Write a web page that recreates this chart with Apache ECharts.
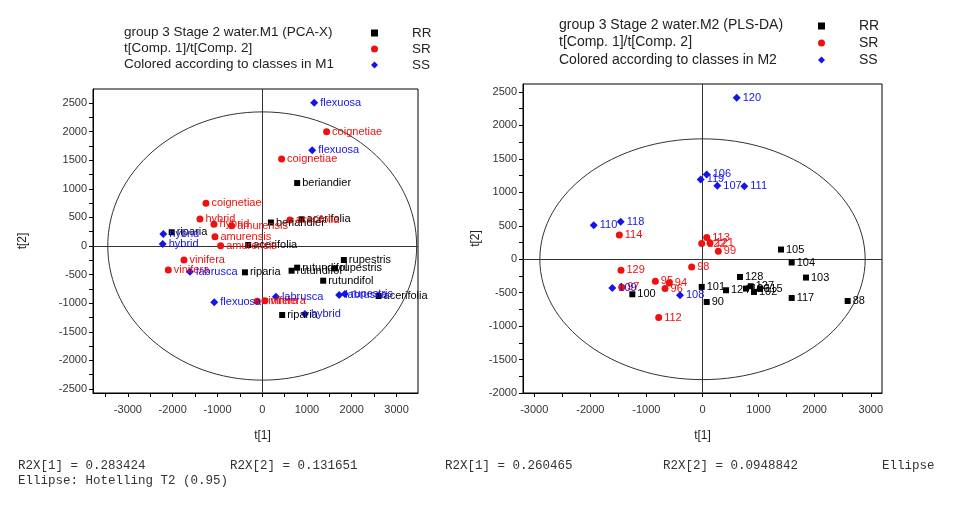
<!DOCTYPE html>
<html><head><meta charset="utf-8">
<script src="https://cdn.jsdelivr.net/npm/echarts@6/dist/echarts.min.js"></script>
<style>html,body{margin:0;padding:0;background:#fff}#c{width:965px;height:505px}</style>
</head><body><div id="c"></div>
<script>
// ---- Left plot (PCA-X) : [t1, t2, label]
const leftRR = [
  [781, 1101, 'beriandier'], [194, 411, 'beriandier'], [879, 467, 'acerifolia'],
  [-2022, 240, 'riparia'], [-313, 17, 'acerifolia'], [-386, -460, 'riparia'],
  [656, -432, 'rutundifol'], [781, -379, 'rutundifol'], [1623, -390, 'rupestris'],
  [1824, -245, 'rupestris'], [1362, -607, 'rutundifol'], [2600, -874, 'acerifolia'],
  [446, -1206, 'riparia']
];
const leftSR = [
  [1438, 1998, 'coignetiae'], [433, 1521, 'coignetiae'], [-1257, 747, 'coignetiae'],
  [-1391, 472, 'hybrid'], [-1078, 379, 'hybrid'], [-683, 355, 'amurensis'],
  [618, 455, 'acerifolia'], [-1056, 163, 'amurensis'], [-929, 5, 'amurensis'],
  [-1748, -245, 'vinifera'], [-2098, -420, 'vinifera'], [-112, -967, 'vinifera'],
  [60, -956, 'vinifera']
];
const leftSS = [
  [1161, 2505, 'flexuosa'], [1116, 1673, 'flexuosa'], [-2210, 210, 'hybrid'],
  [-2223, 35, 'hybrid'], [-1614, -449, 'labrusca'], [-1071, -984, 'flexuosa'],
  [306, -886, 'labrusca'], [953, -1189, 'hybrid'], [1719, -857, 'labrusca'],
  [1846, -839, 'rupestris']
];
// ---- Right plot (PLS-DA)
const rightRR = [
  [1399, 145, '105'], [1590, -49, '104'], [1845, -274, '103'], [1590, -579, '117'],
  [2588, -624, '88'], [668, -265, '128'], [419, -464, '124'], [775, -439, '126'],
  [859, -404, '127'], [918, -489, '102'], [1025, -439, '115'], [-14, -414, '101'],
  [75, -639, '90'], [-1251, -524, '100']
];
const rightSR = [
  [-1483, 364, '114'], [75, 325, '113'], [-14, 235, '122'], [134, 244, '121'],
  [282, 120, '99'], [-193, -115, '98'], [-1453, -165, '129'], [-841, -329, '95'],
  [-592, -355, '94'], [-668, -439, '96'], [-1440, -420, '97'], [-781, -873, '112']
];
const rightSS = [
  [610, 2415, '120'], [75, 1268, '106'], [-32, 1193, '119'], [264, 1097, '107'],
  [745, 1093, '111'], [-1939, 509, '110'], [-1458, 559, '118'], [-401, -539, '108'],
  [-1608, -430, '109']
];
// Hotelling T2 (0.95) ellipse semi-axes
const leftEllipse = [3450, 2345];
const rightEllipse = [2900, 1800];
// Tick values
const leftXLabels = [-3000, -2000, -1000, 0, 1000, 2000, 3000];
const leftXTicks = [-3500, -3000, -2500, -2000, -1500, -1000, -500, 0, 500, 1000, 1500, 2000, 2500, 3000];
const leftYLabels = [-2500, -2000, -1500, -1000, -500, 0, 500, 1000, 1500, 2000, 2500];
const leftYTicks = [-2500, -2250, -2000, -1750, -1500, -1250, -1000, -750, -500, -250, 0, 250, 500, 750, 1000, 1250, 1500, 1750, 2000, 2250, 2500];
const rightXLabels = [-3000, -2000, -1000, 0, 1000, 2000, 3000];
const rightXTicks = [-3000, -2500, -2000, -1500, -1000, -500, 0, 500, 1000, 1500, 2000, 2500, 3000];
const rightYLabels = [-2000, -1500, -1000, -500, 0, 500, 1000, 1500, 2000, 2500];
const rightYTicks = [-2000, -1750, -1500, -1250, -1000, -750, -500, -250, 0, 250, 500, 750, 1000, 1250, 1500, 1750, 2000, 2250, 2500];

const FONT = 'Liberation Sans, Arial, sans-serif';
const MONO = '12.5px "Liberation Mono", monospace';
const COL = { RR: '#000000', SR: '#f01010', SS: '#1414e6' };
const SYM = { RR: 'rect', SR: 'circle', SS: 'diamond' };
const SIZE = { RR: 6, SR: 7, SS: 8 };

function xAxis(gi, min, max, labels, ticks, namePad) {
  return {
    type: 'value', gridIndex: gi, min, max,
    name: 't[1]', nameLocation: 'middle', nameGap: 37,
    nameTextStyle: { color: '#222', fontSize: 12, fontFamily: FONT, padding: [0, 0, 0, namePad] },
    axisLine: { show: true, onZero: false, lineStyle: { color: '#000', width: 1 } },
    axisTick: { show: true, length: 4, customValues: ticks, lineStyle: { color: '#000' } },
    axisLabel: { customValues: labels, margin: 11, color: '#333', fontSize: 11, fontFamily: FONT,
      formatter: v => String(v) },
    splitLine: { show: false }
  };
}
function yAxis(gi, min, max, labels, ticks, gap) {
  return {
    type: 'value', gridIndex: gi, min, max,
    name: 't[2]', nameLocation: 'middle', nameGap: gap, nameRotate: 90,
    nameTextStyle: { color: '#222', fontSize: 12, fontFamily: FONT },
    axisLine: { show: true, onZero: false, lineStyle: { color: '#000', width: 1 } },
    axisTick: { show: true, length: 4, customValues: ticks, lineStyle: { color: '#000' } },
    axisLabel: { customValues: labels, margin: 6, color: '#333', fontSize: 11, fontFamily: FONT,
      formatter: v => String(v) },
    splitLine: { show: false }
  };
}
function scatter(name, gi, data, withZero) {
  const s = {
    name, type: 'scatter', xAxisIndex: gi, yAxisIndex: gi, data,
    symbol: SYM[name], symbolSize: SIZE[name],
    itemStyle: { color: COL[name], opacity: 1 },
    label: { show: true, position: 'right', distance: 2, formatter: p => p.data[2],
      color: COL[name], fontSize: 11, fontFamily: FONT },
    labelLayout: { hideOverlap: false },
    emphasis: { disabled: true }, animation: false, z: 5
  };
  if (withZero) {
    s.markLine = {
      silent: true, symbol: 'none', animation: false,
      label: { show: false },
      lineStyle: { color: '#333', type: 'solid', width: 1 },
      data: [{ xAxis: 0 }, { yAxis: 0 }]
    };
  }
  return s;
}
function ellipse(gi, radii) {
  return {
    type: 'custom', xAxisIndex: gi, yAxisIndex: gi, silent: true, animation: false, z: 2,
    data: [[0, 0, radii[0], radii[1]]],
    renderItem: (params, api) => {
      const c = api.coord([api.value(0), api.value(1)]);
      const s = api.size([api.value(2), api.value(3)]);
      return { type: 'ellipse', shape: { cx: c[0], cy: c[1], rx: s[0], ry: s[1] },
        style: { fill: 'none', stroke: '#333', lineWidth: 1 } };
    }
  };
}

const chart = echarts.init(document.getElementById('c'), null, { renderer: 'canvas' });
chart.setOption({
  backgroundColor: '#fff',
  animation: false,
  title: [
    { text: 'group 3 Stage 2 water.M1 (PCA-X)\nt[Comp. 1]/t[Comp. 2]\nColored according to classes in M1',
      left: 119, top: 19, textStyle: { fontSize: 13.5, fontWeight: 'normal', color: '#222', fontFamily: FONT, lineHeight: 16 } },
    { text: 'group 3 Stage 2 water.M2 (PLS-DA)\nt[Comp. 1]/t[Comp. 2]\nColored according to classes in M2',
      left: 554, top: 11, textStyle: { fontSize: 14, fontWeight: 'normal', color: '#222', fontFamily: FONT, lineHeight: 17.5 } }
  ],
  legend: [
    { orient: 'vertical', left: 366, top: 21, itemWidth: 7, itemHeight: 7, itemGap: 2,
      data: ['RR', 'SR', 'SS'], selectedMode: false,
      textStyle: { fontSize: 13.5, color: '#222', fontFamily: FONT, padding: [0, 0, 0, 29] } },
    { orient: 'vertical', left: 813, top: 14, itemWidth: 7, itemHeight: 7, itemGap: 3,
      data: ['RR', 'SR', 'SS'], selectedMode: false,
      textStyle: { fontSize: 14, color: '#222', fontFamily: FONT, padding: [0, 0, 0, 29] } }
  ],
  grid: [
    { left: 93, top: 89, width: 325, height: 304, show: true, borderColor: '#000', borderWidth: 1, backgroundColor: 'transparent' },
    { left: 523, top: 84, width: 359, height: 309, show: true, borderColor: '#000', borderWidth: 1, backgroundColor: 'transparent' }
  ],
  xAxis: [
    xAxis(0, -3780, 3480, leftXLabels, leftXTicks, 14),
    xAxis(1, -3200, 3200, rightXLabels, rightXTicks, 0)
  ],
  yAxis: [
    yAxis(0, -2570, 2745, leftYLabels, leftYTicks, 64),
    yAxis(1, -2000, 2620, rightYLabels, rightYTicks, 41)
  ],
  graphic: [
    { type: 'text', left: 18, top: 459, style: { text: 'R2X[1] = 0.283424', font: MONO, fill: '#333' } },
    { type: 'text', left: 230, top: 459, style: { text: 'R2X[2] = 0.131651', font: MONO, fill: '#333' } },
    { type: 'text', left: 445, top: 459, style: { text: 'R2X[1] = 0.260465', font: MONO, fill: '#333' } },
    { type: 'text', left: 663, top: 459, style: { text: 'R2X[2] = 0.0948842', font: MONO, fill: '#333' } },
    { type: 'text', left: 882, top: 459, style: { text: 'Ellipse', font: MONO, fill: '#333' } },
    { type: 'text', left: 18, top: 474, style: { text: 'Ellipse: Hotelling T2 (0.95)', font: MONO, fill: '#333' } }
  ],
  series: [
    ellipse(0, leftEllipse),
    scatter('RR', 0, leftRR, true),
    scatter('SR', 0, leftSR, false),
    scatter('SS', 0, leftSS, false),
    ellipse(1, rightEllipse),
    scatter('RR', 1, rightRR, true),
    scatter('SR', 1, rightSR, false),
    scatter('SS', 1, rightSS, false)
  ]
});
</script>
</body></html>
